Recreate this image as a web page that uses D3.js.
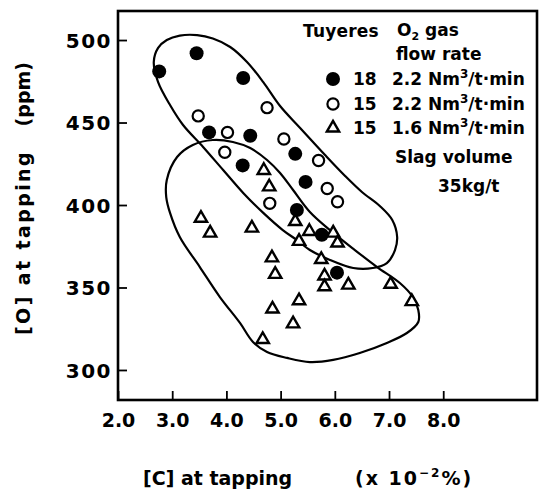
<!DOCTYPE html>
<html>
<head>
<meta charset="utf-8">
<script src="https://cdn.jsdelivr.net/npm/d3@7"></script>
<style>
  html, body { margin: 0; padding: 0; background: #fff; }
  svg { display: block; font-family: "DejaVu Sans", sans-serif; font-weight: bold; }
</style>
</head>
<body>
<svg id="chart" width="542" height="492"></svg>
<script>
// ---- data (x: [C] x10^-2 %, y: [O] ppm) ----
const xTickValues = [2.0, 3.0, 4.0, 5.0, 6.0, 7.0, 8.0];
const yTickValues = [300, 350, 400, 450, 500];

// 18 tuyeres, 2.2 Nm3/t-min (filled circles)
const tuyeres18 = [
  [2.76, 481], [3.45, 492], [4.31, 477], [3.68, 444], [4.44, 442],
  [5.27, 431], [4.30, 424], [5.46, 414], [5.30, 397], [5.76, 382], [6.04, 359]
];
// 15 tuyeres, 2.2 Nm3/t-min (open circles)
const tuyeres15high = [
  [3.48, 454], [4.02, 444], [4.75, 459], [3.97, 432], [5.06, 440],
  [5.70, 427], [4.80, 401], [5.86, 410], [6.05, 402]
];
// 15 tuyeres, 1.6 Nm3/t-min (open triangles)
const tuyeres15low = [
  [4.69, 421], [4.79, 411], [3.53, 392], [3.70, 383], [4.47, 386],
  [5.27, 390], [5.53, 384], [5.97, 383], [5.34, 378], [6.05, 377],
  [4.84, 368], [5.75, 367], [4.90, 358], [5.81, 357], [5.81, 350.5],
  [6.25, 351.5], [7.03, 352], [7.42, 341.5], [5.34, 342], [4.85, 337],
  [5.23, 328], [4.67, 318.5]
];

// enclosing hand-drawn loops (data coordinates)
const upperLoop = [
  [2.66, 486.7], [2.74, 495.2], [2.90, 500.0], [3.14, 502.7], [3.46, 503.0],
  [3.75, 500.9], [4.07, 495.8], [4.38, 486.7], [4.68, 474.5], [4.99, 460.0],
  [5.36, 446.7], [5.82, 430.3], [6.19, 417.6], [6.50, 407.9], [6.83, 399.4],
  [7.06, 390.9], [7.15, 380.6], [7.11, 372.7], [6.96, 364.8], [6.70, 361.8],
  [6.34, 361.8], [5.91, 366.7], [5.54, 372.7], [5.30, 378.8], [5.04, 384.8],
  [4.68, 395.2], [4.31, 407.3], [3.94, 421.2], [3.57, 435.2], [3.20, 448.5],
  [2.96, 460.6], [2.74, 474.5]
];
const lowerLoop = [
  [2.90, 415.2], [3.09, 429.1], [3.38, 436.4], [3.75, 439.4], [4.12, 438.2],
  [4.44, 434.5], [4.75, 427.3], [4.99, 419.4], [5.23, 409.1], [5.54, 395.8],
  [5.91, 384.8], [6.37, 372.7], [6.78, 362.4], [7.20, 352.7], [7.44, 344.2],
  [7.54, 336.4], [7.54, 329.1], [7.33, 322.4], [6.96, 316.4], [6.46, 310.3],
  [5.97, 306.1], [5.54, 304.8], [5.12, 307.3], [4.75, 310.9], [4.49, 317.0],
  [4.25, 328.5], [3.88, 344.2], [3.51, 362.4], [3.14, 380.6], [2.96, 395.2],
  [2.89, 404.8]
];

// ---- layout ----
const L = 118, R = 537, T = 11, B = 400;
const svg = d3.select("#chart");
const x = d3.scaleLinear().domain([2, 9.73]).range([L, R]);
const y = d3.scaleLinear().domain([281.8, 517.6]).range([B, T]);

// axes
const xAxis = d3.axisBottom(x).tickValues(xTickValues).tickFormat(d3.format(".1f"))
  .tickSizeInner(-9).tickSizeOuter(0).tickPadding(13.5);
const gx = svg.append("g").attr("transform", `translate(0,${B})`).call(xAxis);
gx.select(".domain").remove();
gx.selectAll(".tick line").attr("stroke", "#000").attr("stroke-width", 1.8);
gx.selectAll(".tick text").attr("fill", "#000").style("font-size", "19px")
  .style("font-family", "DejaVu Sans").style("font-weight", "bold");

const yAxis = d3.axisLeft(y).tickValues(yTickValues).tickFormat(d3.format("d"))
  .tickSizeInner(-9).tickSizeOuter(0).tickPadding(6);
const gy = svg.append("g").attr("transform", `translate(${L},0)`).call(yAxis);
gy.select(".domain").remove();
gy.selectAll(".tick line").attr("stroke", "#000").attr("stroke-width", 1.8);
gy.selectAll(".tick text").attr("fill", "#000").style("font-size", "20px")
  .style("font-family", "DejaVu Sans").style("font-weight", "bold")
  .style("letter-spacing", "1.5px").attr("dy", "0.36em");

// frame
svg.append("rect").attr("x", L).attr("y", T).attr("width", R - L).attr("height", B - T)
  .attr("fill", "none").attr("stroke", "#000").attr("stroke-width", 2.6);

// loops
const loopLine = d3.line().x(d => x(d[0])).y(d => y(d[1])).curve(d3.curveCatmullRomClosed.alpha(0.5));
svg.append("path").attr("d", loopLine(upperLoop)).attr("fill", "none").attr("stroke", "#000").attr("stroke-width", 2.2);
svg.append("path").attr("d", loopLine(lowerLoop)).attr("fill", "none").attr("stroke", "#000").attr("stroke-width", 2.2);

// markers
const tri = d3.symbol().type(d3.symbolTriangle).size(66);
svg.append("g").selectAll("path").data(tuyeres15low).join("path")
  .attr("d", tri).attr("transform", d => `translate(${x(d[0])},${y(d[1])})`)
  .attr("fill", "#fff").attr("stroke", "#000").attr("stroke-width", 2.4).attr("stroke-linejoin", "miter");
svg.append("g").selectAll("circle").data(tuyeres15high).join("circle")
  .attr("cx", d => x(d[0])).attr("cy", d => y(d[1])).attr("r", 5.6)
  .attr("fill", "#fff").attr("stroke", "#000").attr("stroke-width", 2.2);
svg.append("g").selectAll("circle").data(tuyeres18).join("circle")
  .attr("cx", d => x(d[0])).attr("cy", d => y(d[1])).attr("r", 7)
  .attr("fill", "#000");

// legend
const lg = svg.append("g").style("font-size", "17px").attr("fill", "#000");
lg.append("text").attr("x", 303).attr("y", 37).style("letter-spacing", "0.2px").text("Tuyeres");
const o2 = lg.append("text").attr("x", 397).attr("y", 36);
o2.append("tspan").text("O");
o2.append("tspan").attr("dy", 4).style("font-size", "11px").text("2");
o2.append("tspan").attr("dy", -4).text(" gas");
lg.append("text").attr("x", 396).attr("y", 60).text("flow rate");

const rows = [
  { sym: "filled", n: "18", rate: "2.2", cy: 79 },
  { sym: "open", n: "15", rate: "2.2", cy: 104 },
  { sym: "tri", n: "15", rate: "1.6", cy: 128 }
];
rows.forEach(r => {
  if (r.sym === "filled") {
    lg.append("circle").attr("cx", 333).attr("cy", r.cy).attr("r", 7).attr("fill", "#000");
  } else if (r.sym === "open") {
    lg.append("circle").attr("cx", 333).attr("cy", r.cy).attr("r", 5.6)
      .attr("fill", "#fff").attr("stroke", "#000").attr("stroke-width", 2.2);
  } else {
    lg.append("path").attr("d", tri).attr("transform", `translate(333,${r.cy})`)
      .attr("fill", "#fff").attr("stroke", "#000").attr("stroke-width", 2.4);
  }
  lg.append("text").attr("x", 353).attr("y", r.cy + 6).text(r.n);
  const t = lg.append("text").attr("x", 392).attr("y", r.cy + 6);
  t.append("tspan").text(r.rate + " Nm");
  t.append("tspan").attr("dy", -7).style("font-size", "12px").text("3");
  t.append("tspan").attr("dy", 7).text("/t\u00B7min");
});
lg.append("text").attr("x", 395).attr("y", 163).text("Slag volume");
lg.append("text").attr("x", 438).attr("y", 192).text("35kg/t");

// axis titles
svg.append("text").attr("x", 143).attr("y", 485).style("font-size", "19px").text("[C] at tapping");
const xt2 = svg.append("text").attr("x", 355).attr("y", 485).style("font-size", "19px").style("letter-spacing", "2px");
xt2.append("tspan").text("(x 10");
xt2.append("tspan").attr("dy", -8).style("font-size", "12px").text("\u2212");
xt2.append("tspan").style("font-size", "12px").text("2");
xt2.append("tspan").attr("dy", 8).text("%)");

svg.append("text").attr("transform", "translate(30,335) rotate(-90)")
  .style("font-size", "19px").style("letter-spacing", "2.4px").text("[O] at tapping");
svg.append("text").attr("transform", "translate(30,62) rotate(-90)")
  .attr("text-anchor", "end").style("font-size", "19px").text("(ppm)");
</script>
</body>
</html>
